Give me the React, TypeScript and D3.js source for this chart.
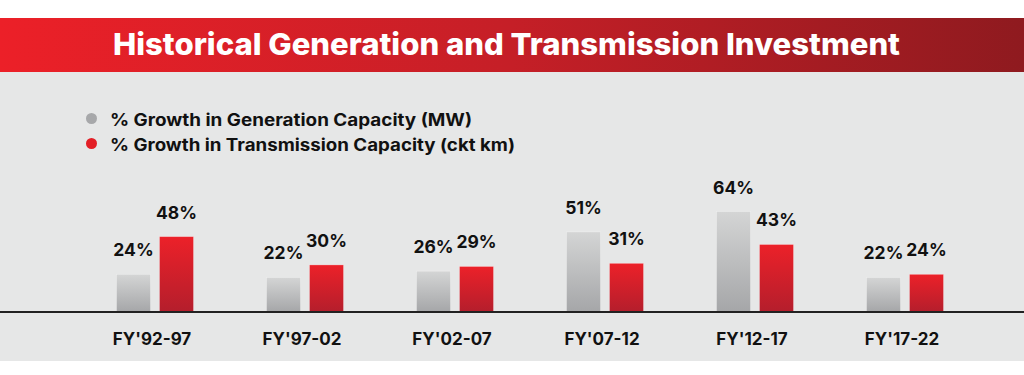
import React from "react";
import * as d3 from "d3";

const categories = ["FY'92-97", "FY'97-02", "FY'02-07", "FY'07-12", "FY'12-17", "FY'17-22"];
const generationGrowth = [24, 22, 26, 51, 64, 22];
const transmissionGrowth = [48, 30, 29, 31, 43, 24];
const seriesNames = ["% Growth in Generation Capacity (MW)", "% Growth in Transmission Capacity (ckt km)"];
const seriesKeys = ["gen", "trans"];
const title = "Historical Generation and Transmission Investment";

const W = 1024;
const H = 375;
const FONT = "Inter, 'Open Sans', sans-serif";

export default function App() {
  const x = d3.scaleBand<string>().domain(categories).range([80, 980]).padding(0);
  const inner = d3.scaleBand<string>().domain(seriesKeys).range([0, 77]).paddingInner(9 / 43);
  const y = d3.scaleLinear().domain([0, 100]).range([312, 312 - 157]);
  const fills = ["url(#gGray)", "url(#gRed)"];
  const legendColors = ["#a7a8aa", "#e31f26"];
  const legendWidths = [362, 405];
  const values = [generationGrowth, transmissionGrowth];

  return (
    <div style={{ position: "absolute", left: 0, top: 0, width: W, height: H, background: "#fff" }}>
      <svg width={W} height={H} style={{ display: "block" }}>
        <defs>
          <linearGradient id="gBanner" x1="0" x2="1" y1="0" y2="0">
            <stop offset="0" stopColor="#ec2028" />
            <stop offset="0.5" stopColor="#c51f27" />
            <stop offset="1" stopColor="#8f1a1f" />
          </linearGradient>
          <linearGradient id="gGray" x1="0" x2="0" y1="0" y2="1">
            <stop offset="0" stopColor="#d4d5d5" />
            <stop offset="1" stopColor="#a5a6a8" />
          </linearGradient>
          <linearGradient id="gRed" x1="0" x2="0" y1="0" y2="1">
            <stop offset="0" stopColor="#ec2129" />
            <stop offset="1" stopColor="#b41e2c" />
          </linearGradient>
        </defs>
        <rect x={0} y={18} width={W} height={54} fill="url(#gBanner)" />
        <rect x={0} y={72} width={W} height={289} fill="#e6e7e7" />
        <text x={506.5} y={55} textAnchor="middle" fill="#fff" fontFamily={FONT} fontWeight={800} fontSize={30} textLength={787} lengthAdjust="spacingAndGlyphs">
          {title}
        </text>
        {seriesNames.map((s, i) => (
          <g key={s} transform={`translate(0, ${118.5 + i * 25})`}>
            <circle cx={91.5} cy={0} r={5.5} fill={legendColors[i]} />
            <text x={110} y={7} fill="#111" fontFamily={FONT} fontWeight={700} fontSize={17} textLength={legendWidths[i]} lengthAdjust="spacingAndGlyphs">
              {s}
            </text>
          </g>
        ))}
        {categories.map((c, ci) => (
          <g key={c} transform={`translate(${(x(c) as number) + x.bandwidth() / 2 - 38.5}, 0)`}>
            {seriesKeys.map((k, si) => {
              const v = values[si][ci];
              const bx = inner(k) as number;
              return (
                <g key={k}>
                  <rect x={bx} y={y(v)} width={inner.bandwidth()} height={y(0) - y(v)} fill={fills[si]} stroke="rgba(255,255,255,0.35)" strokeWidth={0.8} />
                  <text x={bx + inner.bandwidth() / 2} y={y(v) - 18} textAnchor="middle" fill="#111" fontFamily={FONT} fontWeight={700} fontSize={17.5}>
                    {v}%
                  </text>
                </g>
              );
            })}
            <text x={38.5 - 3} y={345} textAnchor="middle" fill="#111" fontFamily={FONT} fontWeight={700} fontSize={17}>
              {c}
            </text>
          </g>
        ))}
        <line x1={0} x2={W} y1={y(0)} y2={y(0)} stroke="#222" strokeWidth={2} />
      </svg>
    </div>
  );
}
